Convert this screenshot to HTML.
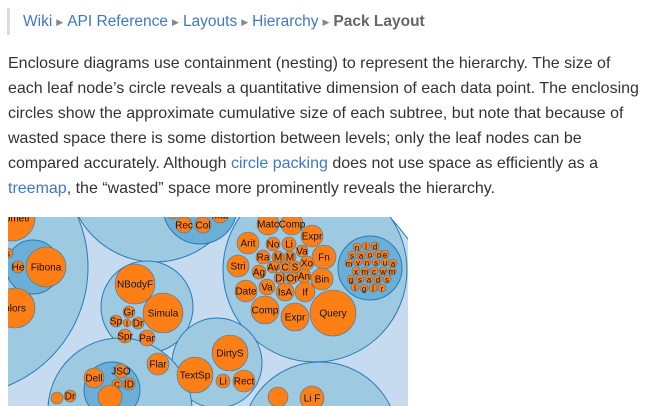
<!DOCTYPE html>
<html><head><meta charset="utf-8"><style>
html,body{margin:0;width:659px;height:406px;overflow:hidden}
body{position:relative;background:#fff;font-family:"Liberation Sans",Helvetica,Arial,sans-serif;color:#333}
#crumb{position:absolute;left:7px;top:8px;height:27px;border-left:3px solid #ddd;padding-left:13px;font-size:15.5px;line-height:27px;color:#999;white-space:nowrap}
#crumb a{color:#4078c0;text-decoration:none}
#crumb b{color:#666}
.sep{font-size:9px;color:#888;margin:0 4px;position:relative;top:-1px}
#para{position:absolute;left:8px;top:51px;width:650px;height:150px;overflow:hidden;font-size:16px;line-height:25px;color:#333;white-space:nowrap}
#para a{color:#4078c0;text-decoration:none}
svg{position:absolute;left:8px;top:217px;display:block;overflow:hidden}
</style></head><body>
<div id="crumb"><a>Wiki</a><span class="sep">▶</span><a>API Reference</a><span class="sep">▶</span><a>Layouts</a><span class="sep">▶</span><a>Hierarchy</a><span class="sep">▶</span><b>Pack Layout</b></div>
<div id="para">Enclosure diagrams use containment (nesting) to represent the hierarchy. The size of<br>each leaf node’s circle reveals a quantitative dimension of each data point. The enclosing<br>circles show the approximate cumulative size of each subtree, but note that because of<br>wasted space there is some distortion between levels; only the leaf nodes can be<br>compared accurately. Although <a>circle packing</a> does not use space as efficiently as a<br><a>treemap</a>, the “wasted” space more prominently reveals the hierarchy.</div>
<svg id="chart" width="400" height="189"></svg>
<script>
const nodeNames=["root","left","top","right","nbody","dirty","botl","botr","fibg","recg","smallg","botlin",
"geometr","s","He","Fibona","olors","Rec","Col","Mat","o1",
"Query","Expr","Comp","Date","Stri","Arit","Matc","Comp","Expr","Fn","Bin","If","IsA","Va","Ag","No","Li","Va","Ra","M","M","Xo","Av","C","S","An","Di","Or",
"NBodyF","Simula","Gr","Sp","I","Dr","Spr","Par","Flar","TextSp","DirtyS","Li","Rect",
"Dell","JSO","C","ID","","","Dr","","Li F",
"n","l","d","s","a","o","o","e","m","v","n","s","u","a","x","m","c","w","m","g","s","a","d","s","l","l","g","l","r"];
const nodeDepth=[0,1,1,1,1,1,1,1,2,2,2,2,
3,3,3,3,3,3,3,3,3,
3,3,3,3,3,3,3,3,3,3,3,3,3,3,3,3,3,3,3,3,3,3,3,3,3,3,3,3,
3,3,3,3,3,3,3,3,3,3,3,3,3,
3,3,3,3,3,3,3,3,3,
3,3,3,3,3,3,3,3,3,3,3,3,3,3,3,3,3,3,3,3,3,3,3,3,3,3,3,3,3];
const nodeX=[190,-40,155,315,147,217,120,320,33,200,370,112,
12,8,18,46,15,184,203,220,173,
333,295,265,246,238,248,268,292,312,324,322,305,285,267,259,273,289,302,263,278,290,307,273,285,295,304,280,292,
135,163,129,116,127,138,125,147,158,195,230,223,244,
94,121,117,129,110,57,70,278,312,
357,366,375,352,361,370,379,385,349,358,367,376,385,393,356,365,374,383,392,351,360,369,378,387,375,355,364,373,382];
const nodeY=[400,267,175,270,307,363,410,440,267,207,268,390,
218,253,267,267,308,225,225,215,212,
313,317,310,291,266,243,224,224,236,257,279,292,292,287,272,244,244,251,257,257,257,263,267,267,267,276,278,278,
284,313,312,321,323,323,336,338,364,375,353,381,381,
378,371,384,384,397,398,396,397,398,
247,246,246,255,255,254,254,254,263,262,262,262,262,263,271,271,271,271,271,279,279,279,279,279,287,287,288,288,288];
const nodeR=[271,128,87,92,46,45,72,78,27,37,32,28,
23,5,6,20,20,8,8,8,7,
23,14,14,11,11,11,11,11,11,12,11,10,9,8,7,7,7,6,7,6,6,7,6,6,6,7,6,6,
20,20,6,6,4,6,7,8,11,18,18,7,11,
10,7,5,6,12,6,6,10,12,
4,4,4,4,4,4,4,4,4,4,4,4,4,4,4,4,4,4,4,4,4,4,4,4,4,4,4,4,4];
const fills=["#c6dbef","#9ecae1","#6baed6","#fd7f16"];
const svg=document.getElementById('chart'),NS="http://www.w3.org/2000/svg";
const ox=8,oy=217;
const bg=document.createElementNS(NS,'rect');


bg.setAttribute('width',400);bg.setAttribute('height',189);bg.setAttribute('fill','#fff');svg.appendChild(bg);
for(let i=0;i<nodeNames.length;i++){
  const c=document.createElementNS(NS,'circle');
  
  
  c.setAttribute('cx',nodeX[i]-ox);c.setAttribute('cy',nodeY[i]-oy);c.setAttribute('r',nodeR[i]);
  c.setAttribute('fill',fills[nodeDepth[i]]);
  c.setAttribute('stroke','#2a7ab8');c.setAttribute('stroke-width',nodeDepth[i]===3?0.6:1);
  svg.appendChild(c);
  if(nodeDepth[i]===3&&nodeNames[i]){
    const t=document.createElementNS(NS,'text');
    
    
    t.setAttribute('x',nodeX[i]-ox);t.setAttribute('y',nodeY[i]-oy+3.5);
    t.setAttribute('text-anchor','middle');
    t.setAttribute('font-size',nodeR[i]<=5?8:10);
    t.setAttribute('font-family','Liberation Sans, sans-serif');
    t.setAttribute('fill','#111');
    t.textContent=nodeNames[i];
    svg.appendChild(t);
  }
}
</script>
</body></html>
